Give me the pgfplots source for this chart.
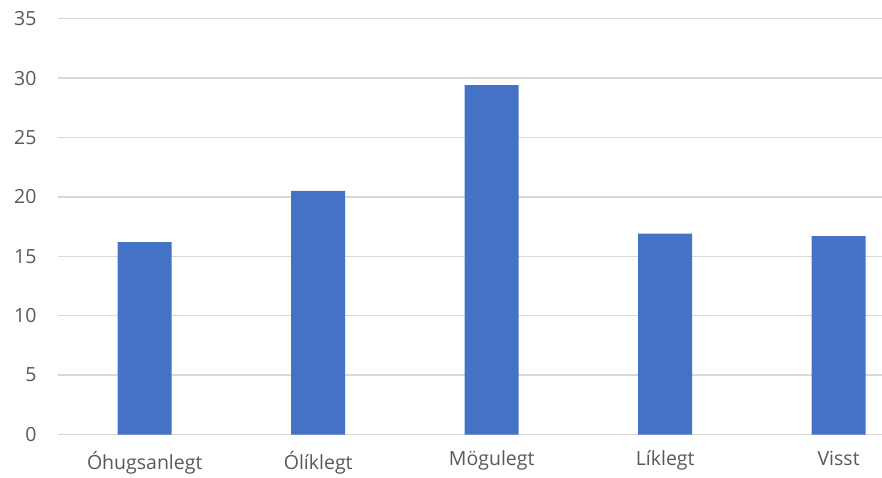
\documentclass[border=0pt]{standalone}
\usepackage{pgfplots}
\pgfplotsset{compat=1.18}
\usepackage{fontspec}
\setmainfont{Open Sans}
\definecolor{barblue}{HTML}{4472C4}
\definecolor{gridgray}{HTML}{D9D9D9}
\definecolor{labgray}{HTML}{595959}
\begin{document}
\begin{tikzpicture}
\useasboundingbox (-58pt,-42.5pt) rectangle (824pt,434.5pt);
\begin{axis}[
  scale only axis,
  width=824pt, height=415.8pt,
  at={(0,0)}, anchor=south west,
  xmin=-0.5, xmax=4.25,
  ymin=0, ymax=35,
  ytick={0,5,...,35},
  xtick={0,1,2,3,4},
  xticklabels={Óhugsanlegt,Ólíklegt,Mögulegt,Líklegt,Visst},
  axis line style={draw=none},
  tick style={draw=none},
  ymajorgrids,
  grid style={gridgray, line width=1.5pt},
  yticklabel style={font=\fontsize{19.5}{22}\selectfont, text=labgray, xshift=-18pt},
  xticklabel style={font=\fontsize{19.5}{22}\selectfont, text=labgray, yshift=-13pt},
  /pgf/number format/assume math mode=true,
  clip=false,
]
\addplot[ybar, bar width=54pt, fill=barblue, draw=none] coordinates {
  (0,16.2) (1,20.5) (2,29.4) (3,16.9) (4,16.7)
};
\end{axis}
\end{tikzpicture}
\end{document}
